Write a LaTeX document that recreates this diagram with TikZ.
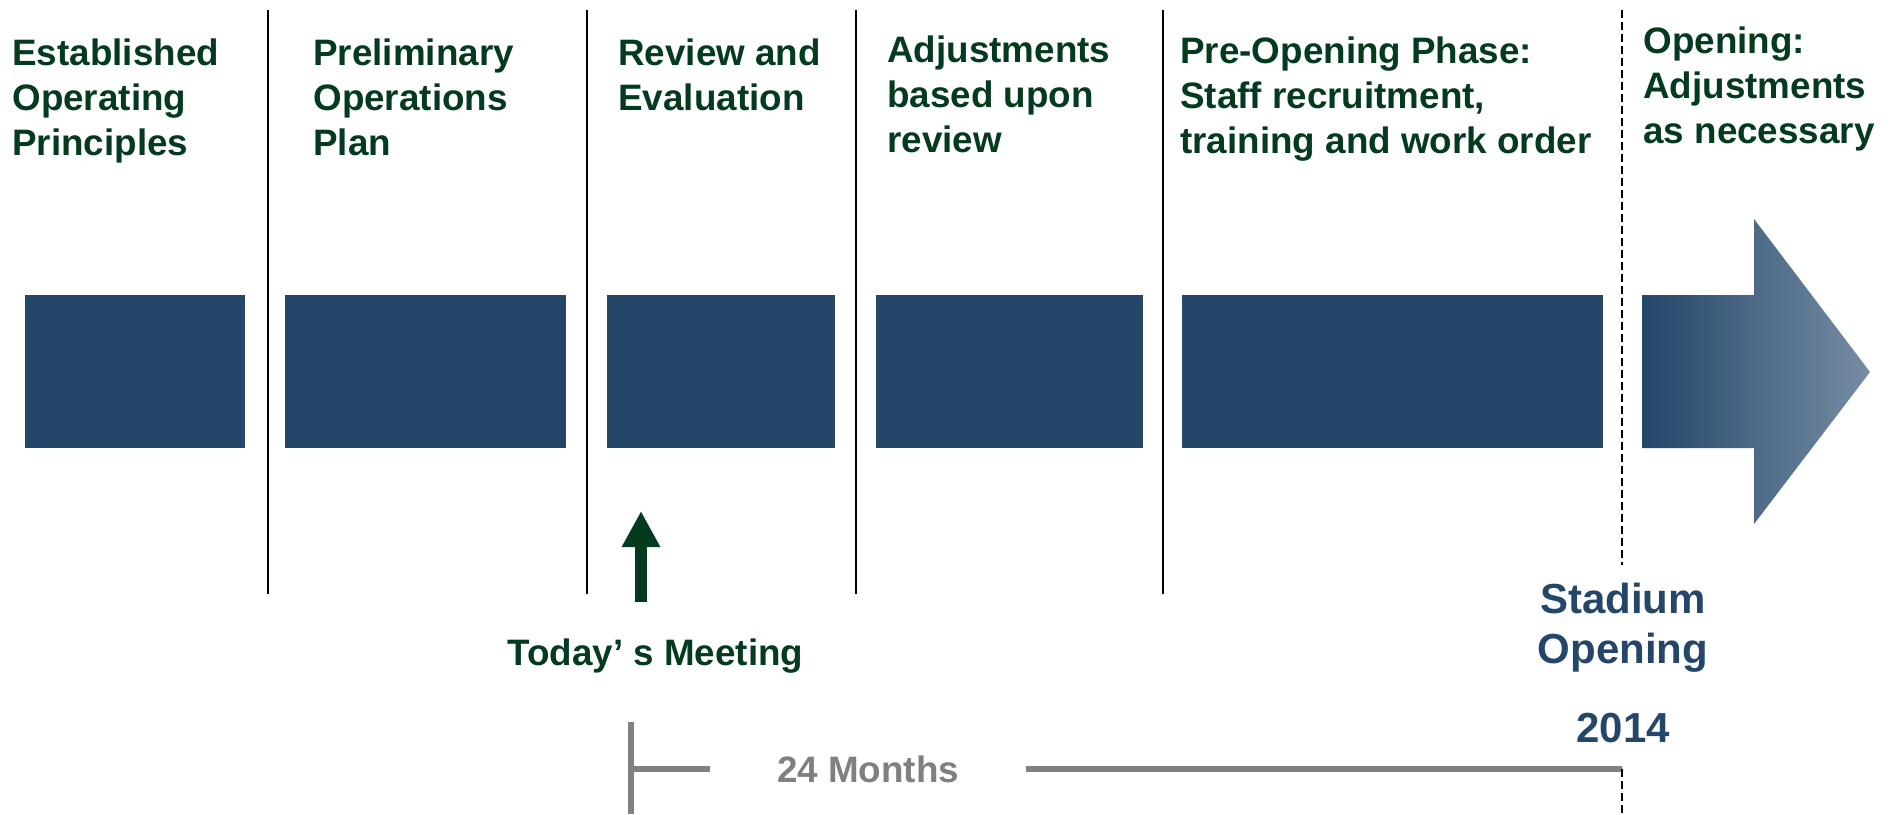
\documentclass[tikz,border=0pt]{standalone}
\usepackage{fontspec}
\setmainfont{Liberation Sans}
\usetikzlibrary{arrows.meta}
\definecolor{phasegreen}{RGB}{4,58,30}
\definecolor{phaseblue}{RGB}{36,70,105}
\definecolor{fadeblue}{RGB}{118,141,163}
\definecolor{spangray}{RGB}{128,128,128}
\tikzstyle{phase} = [anchor=north west, inner sep=0pt, align=left, text=phasegreen, font=\bfseries\fontsize{18.4}{22.5}\selectfont]
\tikzstyle{block} = [fill=phaseblue]
\tikzstyle{divider} = [line width=1pt, black]
\tikzstyle{span} = [line width=3pt, spangray]

\begin{document}
\begin{tikzpicture}[x=0.5pt, y=-0.5pt, >=Triangle]
  \useasboundingbox (0,0) rectangle (1899,814);

  % PHASE LABELS
  \node[phase] (established) at (12,38) {Established\\Operating\\Principles};
  \node[phase] (preliminary) at (313,38) {Preliminary\\Operations\\Plan};
  \node[phase] (review) at (618,38) {Review and\\Evaluation};
  \node[phase] (adjust) at (887,35) {Adjustments\\based upon\\review};
  \node[phase] (preopen) at (1180,36) {Pre-Opening Phase:\\Staff recruitment,\\training and work order};
  \node[phase] (opening) at (1643,26) {Opening:\\Adjustments\\as necessary};

  % DIVIDERS
  \draw[divider] (268,10) -- (268,594);
  \draw[divider] (587,10) -- (587,594);
  \draw[divider] (856,10) -- (856,594);
  \draw[divider] (1163,10) -- (1163,594);

  % BLOCKS
  \fill[block] (25,295) rectangle (245,448);
  \fill[block] (285,295) rectangle (566,448);
  \fill[block] (607,295) rectangle (835,448);
  \fill[block] (876,295) rectangle (1143,448);
  \fill[block] (1182,295) rectangle (1603,448);
  % fading arrow
  \shade[left color=phaseblue, right color=fadeblue] (1642,295) -- (1754,295) -- (1754,219)
    -- (1870,372) -- (1754,524) -- (1754,448) -- (1642,448) -- cycle;

  % TODAY
  \coordinate (todaybase) at (641,602);
  \coordinate (todaytip) at (641,511);
  \draw[line width=5.75pt, phasegreen, -{Triangle[width=18pt,length=18pt]}] (todaybase) -- (todaytip);
  \node[phase, anchor=base west] (meeting) at (507,665) {Today’ s Meeting};

  % STADIUM OPENING
  \node[anchor=north, align=center, inner sep=0pt, text=phaseblue, font=\bfseries\fontsize{21}{25}\selectfont] (stadium) at (1623,583) {Stadium\\Opening};
  \node[anchor=base, inner sep=0pt, text=phaseblue, font=\bfseries\fontsize{21}{25}\selectfont] (year) at (1623,742) {2014};

  % 24 MONTHS
  \coordinate (spantop) at (631,722);
  \coordinate (spanbottom) at (631,814);
  \coordinate (spanleft) at (631,769);
  \coordinate (spanright) at (1622,769);
  \node[inner xsep=33.5pt, text=spangray, font=\bfseries\fontsize{18.4}{22.5}\selectfont] (months) at (868,769) {24 Months};
  \draw[span] (spantop) -- (spanbottom);
  \draw[span] (spanleft) -- (months.west);
  \draw[span] (months.east) -- (spanright);

  % opening day (broken behind the labels)
  \coordinate (opentop) at (1622,10);
  \coordinate (openmid) at (1622,565);
  \coordinate (openbottom) at (1622,814);
  \draw[divider, dash pattern=on 4pt off 2pt] (opentop) -- (openmid);
  \draw[divider, dash pattern=on 4pt off 2pt] (spanright) -- (openbottom);
\end{tikzpicture}
\end{document}
